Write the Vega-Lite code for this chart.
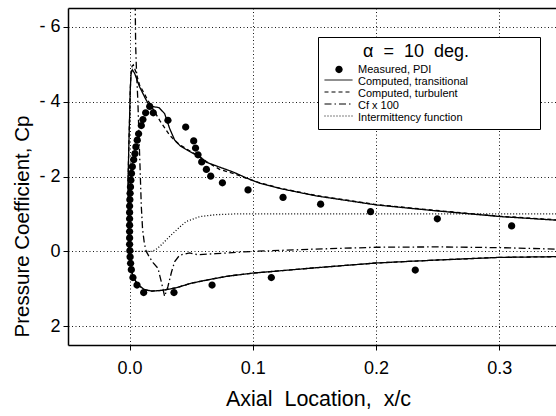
{
  "$schema": "https://vega.github.io/schema/vega-lite/v6.json",
  "width": 488,
  "height": 337,
  "autosize": {"type": "none"},
  "padding": {"left": 68, "top": 8, "right": 0, "bottom": 71},
  "background": "white",
  "datasets": {
    "lines": [
      {"s": "Computed, transitional", "k": 1, "x": 0.348, "cp": 0.14},
      {"s": "Computed, transitional", "k": 2, "x": 0.30, "cp": 0.16},
      {"s": "Computed, transitional", "k": 3, "x": 0.25, "cp": 0.23},
      {"s": "Computed, transitional", "k": 4, "x": 0.20, "cp": 0.31},
      {"s": "Computed, transitional", "k": 5, "x": 0.15, "cp": 0.44},
      {"s": "Computed, transitional", "k": 6, "x": 0.10, "cp": 0.58},
      {"s": "Computed, transitional", "k": 7, "x": 0.08, "cp": 0.66},
      {"s": "Computed, transitional", "k": 8, "x": 0.065, "cp": 0.75},
      {"s": "Computed, transitional", "k": 9, "x": 0.05, "cp": 0.85},
      {"s": "Computed, transitional", "k": 10, "x": 0.038, "cp": 0.97},
      {"s": "Computed, transitional", "k": 11, "x": 0.027, "cp": 1.04},
      {"s": "Computed, transitional", "k": 12, "x": 0.018, "cp": 1.06},
      {"s": "Computed, transitional", "k": 13, "x": 0.012, "cp": 1.02},
      {"s": "Computed, transitional", "k": 14, "x": 0.007, "cp": 0.90},
      {"s": "Computed, transitional", "k": 15, "x": 0.003, "cp": 0.70},
      {"s": "Computed, transitional", "k": 16, "x": 0.001, "cp": 0.45},
      {"s": "Computed, transitional", "k": 17, "x": 0.0, "cp": 0.2},
      {"s": "Computed, transitional", "k": 18, "x": -0.0008, "cp": -0.3},
      {"s": "Computed, transitional", "k": 19, "x": -0.001, "cp": -1.0},
      {"s": "Computed, transitional", "k": 20, "x": -0.0012, "cp": -2.0},
      {"s": "Computed, transitional", "k": 21, "x": -0.0005, "cp": -3.0},
      {"s": "Computed, transitional", "k": 22, "x": 0.0, "cp": -3.6},
      {"s": "Computed, transitional", "k": 23, "x": 0.0005, "cp": -4.3},
      {"s": "Computed, transitional", "k": 24, "x": 0.0012, "cp": -4.75},
      {"s": "Computed, transitional", "k": 25, "x": 0.0022, "cp": -4.85},
      {"s": "Computed, transitional", "k": 26, "x": 0.004, "cp": -4.76},
      {"s": "Computed, transitional", "k": 27, "x": 0.008, "cp": -4.40},
      {"s": "Computed, transitional", "k": 28, "x": 0.013, "cp": -4.07},
      {"s": "Computed, transitional", "k": 29, "x": 0.0163, "cp": -3.88},
      {"s": "Computed, transitional", "k": 30, "x": 0.020, "cp": -3.86},
      {"s": "Computed, transitional", "k": 31, "x": 0.0238, "cp": -3.84},
      {"s": "Computed, transitional", "k": 32, "x": 0.0284, "cp": -3.68},
      {"s": "Computed, transitional", "k": 33, "x": 0.0325, "cp": -3.28},
      {"s": "Computed, transitional", "k": 34, "x": 0.0366, "cp": -2.97},
      {"s": "Computed, transitional", "k": 35, "x": 0.041, "cp": -2.82},
      {"s": "Computed, transitional", "k": 36, "x": 0.048, "cp": -2.68},
      {"s": "Computed, transitional", "k": 37, "x": 0.0555, "cp": -2.55},
      {"s": "Computed, transitional", "k": 38, "x": 0.0623, "cp": -2.38},
      {"s": "Computed, transitional", "k": 39, "x": 0.0731, "cp": -2.25},
      {"s": "Computed, transitional", "k": 40, "x": 0.084, "cp": -2.12},
      {"s": "Computed, transitional", "k": 41, "x": 0.0948, "cp": -1.96},
      {"s": "Computed, transitional", "k": 42, "x": 0.1056, "cp": -1.82},
      {"s": "Computed, transitional", "k": 43, "x": 0.1218, "cp": -1.68},
      {"s": "Computed, transitional", "k": 44, "x": 0.1517, "cp": -1.48},
      {"s": "Computed, transitional", "k": 45, "x": 0.2004, "cp": -1.24},
      {"s": "Computed, transitional", "k": 46, "x": 0.2464, "cp": -1.09},
      {"s": "Computed, transitional", "k": 47, "x": 0.3006, "cp": -0.93},
      {"s": "Computed, transitional", "k": 48, "x": 0.348, "cp": -0.83},

      {"s": "Computed, turbulent", "k": 1, "x": 0.348, "cp": 0.14},
      {"s": "Computed, turbulent", "k": 2, "x": 0.30, "cp": 0.16},
      {"s": "Computed, turbulent", "k": 3, "x": 0.25, "cp": 0.23},
      {"s": "Computed, turbulent", "k": 4, "x": 0.20, "cp": 0.31},
      {"s": "Computed, turbulent", "k": 5, "x": 0.15, "cp": 0.44},
      {"s": "Computed, turbulent", "k": 6, "x": 0.10, "cp": 0.58},
      {"s": "Computed, turbulent", "k": 7, "x": 0.08, "cp": 0.66},
      {"s": "Computed, turbulent", "k": 8, "x": 0.065, "cp": 0.75},
      {"s": "Computed, turbulent", "k": 9, "x": 0.05, "cp": 0.85},
      {"s": "Computed, turbulent", "k": 10, "x": 0.038, "cp": 0.97},
      {"s": "Computed, turbulent", "k": 11, "x": 0.027, "cp": 1.04},
      {"s": "Computed, turbulent", "k": 12, "x": 0.018, "cp": 1.06},
      {"s": "Computed, turbulent", "k": 13, "x": 0.012, "cp": 1.02},
      {"s": "Computed, turbulent", "k": 14, "x": 0.007, "cp": 0.90},
      {"s": "Computed, turbulent", "k": 15, "x": 0.003, "cp": 0.70},
      {"s": "Computed, turbulent", "k": 16, "x": 0.001, "cp": 0.45},
      {"s": "Computed, turbulent", "k": 17, "x": 0.0, "cp": 0.2},
      {"s": "Computed, turbulent", "k": 18, "x": -0.0008, "cp": -0.3},
      {"s": "Computed, turbulent", "k": 19, "x": -0.001, "cp": -1.0},
      {"s": "Computed, turbulent", "k": 20, "x": -0.0012, "cp": -2.0},
      {"s": "Computed, turbulent", "k": 21, "x": -0.0005, "cp": -3.0},
      {"s": "Computed, turbulent", "k": 22, "x": 0.0, "cp": -3.6},
      {"s": "Computed, turbulent", "k": 23, "x": 0.0005, "cp": -4.3},
      {"s": "Computed, turbulent", "k": 24, "x": 0.001, "cp": -4.7},
      {"s": "Computed, turbulent", "k": 25, "x": 0.002, "cp": -4.95},
      {"s": "Computed, turbulent", "k": 26, "x": 0.003, "cp": -4.98},
      {"s": "Computed, turbulent", "k": 27, "x": 0.005, "cp": -4.80},
      {"s": "Computed, turbulent", "k": 28, "x": 0.008, "cp": -4.45},
      {"s": "Computed, turbulent", "k": 29, "x": 0.0149, "cp": -4.03},
      {"s": "Computed, turbulent", "k": 30, "x": 0.0244, "cp": -3.50},
      {"s": "Computed, turbulent", "k": 31, "x": 0.0325, "cp": -3.10},
      {"s": "Computed, turbulent", "k": 32, "x": 0.037, "cp": -2.95},
      {"s": "Computed, turbulent", "k": 33, "x": 0.041, "cp": -2.84},
      {"s": "Computed, turbulent", "k": 34, "x": 0.048, "cp": -2.70},
      {"s": "Computed, turbulent", "k": 35, "x": 0.0555, "cp": -2.56},
      {"s": "Computed, turbulent", "k": 36, "x": 0.0623, "cp": -2.40},
      {"s": "Computed, turbulent", "k": 37, "x": 0.073, "cp": -2.19},
      {"s": "Computed, turbulent", "k": 38, "x": 0.085, "cp": -2.07},
      {"s": "Computed, turbulent", "k": 39, "x": 0.095, "cp": -1.95},
      {"s": "Computed, turbulent", "k": 40, "x": 0.1056, "cp": -1.83},
      {"s": "Computed, turbulent", "k": 41, "x": 0.1218, "cp": -1.69},
      {"s": "Computed, turbulent", "k": 42, "x": 0.1517, "cp": -1.49},
      {"s": "Computed, turbulent", "k": 43, "x": 0.2004, "cp": -1.25},
      {"s": "Computed, turbulent", "k": 44, "x": 0.2464, "cp": -1.10},
      {"s": "Computed, turbulent", "k": 45, "x": 0.3006, "cp": -0.94},
      {"s": "Computed, turbulent", "k": 46, "x": 0.348, "cp": -0.84},

      {"s": "Cf x 100", "k": 1, "x": 0.0043, "cp": -7.0},
      {"s": "Cf x 100", "k": 2, "x": 0.0046, "cp": -6.4},
      {"s": "Cf x 100", "k": 3, "x": 0.0049, "cp": -5.5},
      {"s": "Cf x 100", "k": 4, "x": 0.0055, "cp": -4.9},
      {"s": "Cf x 100", "k": 5, "x": 0.0067, "cp": -4.0},
      {"s": "Cf x 100", "k": 6, "x": 0.0075, "cp": -3.2},
      {"s": "Cf x 100", "k": 7, "x": 0.0085, "cp": -2.2},
      {"s": "Cf x 100", "k": 8, "x": 0.0095, "cp": -1.2},
      {"s": "Cf x 100", "k": 9, "x": 0.0105, "cp": -0.6},
      {"s": "Cf x 100", "k": 10, "x": 0.012, "cp": -0.2},
      {"s": "Cf x 100", "k": 11, "x": 0.0135, "cp": 0.0},
      {"s": "Cf x 100", "k": 12, "x": 0.016, "cp": 0.15},
      {"s": "Cf x 100", "k": 13, "x": 0.019, "cp": 0.3},
      {"s": "Cf x 100", "k": 14, "x": 0.023, "cp": 0.45},
      {"s": "Cf x 100", "k": 15, "x": 0.026, "cp": 0.85},
      {"s": "Cf x 100", "k": 16, "x": 0.0284, "cp": 1.2},
      {"s": "Cf x 100", "k": 17, "x": 0.031, "cp": 0.95},
      {"s": "Cf x 100", "k": 18, "x": 0.034, "cp": 0.55},
      {"s": "Cf x 100", "k": 19, "x": 0.0366, "cp": 0.27},
      {"s": "Cf x 100", "k": 20, "x": 0.0406, "cp": 0.1},
      {"s": "Cf x 100", "k": 21, "x": 0.0487, "cp": 0.04},
      {"s": "Cf x 100", "k": 22, "x": 0.0555, "cp": 0.09},
      {"s": "Cf x 100", "k": 23, "x": 0.07, "cp": 0.06},
      {"s": "Cf x 100", "k": 24, "x": 0.1, "cp": 0.0},
      {"s": "Cf x 100", "k": 25, "x": 0.15, "cp": -0.06},
      {"s": "Cf x 100", "k": 26, "x": 0.2, "cp": -0.11},
      {"s": "Cf x 100", "k": 27, "x": 0.25, "cp": -0.12},
      {"s": "Cf x 100", "k": 28, "x": 0.3, "cp": -0.1},
      {"s": "Cf x 100", "k": 29, "x": 0.348, "cp": -0.06},

      {"s": "Intermittency function", "k": 1, "x": 0.0, "cp": 0.0},
      {"s": "Intermittency function", "k": 2, "x": 0.018, "cp": 0.0},
      {"s": "Intermittency function", "k": 3, "x": 0.021, "cp": -0.04},
      {"s": "Intermittency function", "k": 4, "x": 0.025, "cp": -0.15},
      {"s": "Intermittency function", "k": 5, "x": 0.0325, "cp": -0.4},
      {"s": "Intermittency function", "k": 6, "x": 0.04, "cp": -0.63},
      {"s": "Intermittency function", "k": 7, "x": 0.046, "cp": -0.8},
      {"s": "Intermittency function", "k": 8, "x": 0.057, "cp": -0.93},
      {"s": "Intermittency function", "k": 9, "x": 0.07, "cp": -0.98},
      {"s": "Intermittency function", "k": 10, "x": 0.085, "cp": -1.0},
      {"s": "Intermittency function", "k": 11, "x": 0.348, "cp": -1.0}
    ],
    "pts": [
      {"s": "Measured, PDI", "x": 0.0114, "cp": 1.10},
      {"s": "Measured, PDI", "x": 0.006, "cp": 0.90},
      {"s": "Measured, PDI", "x": 0.0027, "cp": 0.70},
      {"s": "Measured, PDI", "x": 0.0014, "cp": 0.49},
      {"s": "Measured, PDI", "x": 0.0008, "cp": 0.32},
      {"s": "Measured, PDI", "x": 0.0004, "cp": 0.15},
      {"s": "Measured, PDI", "x": 0.0002, "cp": -0.02},
      {"s": "Measured, PDI", "x": 0.0, "cp": -0.19},
      {"s": "Measured, PDI", "x": 0.0, "cp": -0.36},
      {"s": "Measured, PDI", "x": 0.0, "cp": -0.53},
      {"s": "Measured, PDI", "x": 0.0, "cp": -0.70},
      {"s": "Measured, PDI", "x": 0.0, "cp": -0.87},
      {"s": "Measured, PDI", "x": 0.0, "cp": -1.04},
      {"s": "Measured, PDI", "x": 0.0, "cp": -1.21},
      {"s": "Measured, PDI", "x": 0.0002, "cp": -1.38},
      {"s": "Measured, PDI", "x": 0.0004, "cp": -1.55},
      {"s": "Measured, PDI", "x": 0.0007, "cp": -1.72},
      {"s": "Measured, PDI", "x": 0.0010, "cp": -1.90},
      {"s": "Measured, PDI", "x": 0.0015, "cp": -2.08},
      {"s": "Measured, PDI", "x": 0.0022, "cp": -2.26},
      {"s": "Measured, PDI", "x": 0.0033, "cp": -2.45},
      {"s": "Measured, PDI", "x": 0.0043, "cp": -2.61},
      {"s": "Measured, PDI", "x": 0.0051, "cp": -2.79},
      {"s": "Measured, PDI", "x": 0.0062, "cp": -2.97},
      {"s": "Measured, PDI", "x": 0.0073, "cp": -3.14},
      {"s": "Measured, PDI", "x": 0.0095, "cp": -3.36},
      {"s": "Measured, PDI", "x": 0.0108, "cp": -3.52},
      {"s": "Measured, PDI", "x": 0.013, "cp": -3.70},
      {"s": "Measured, PDI", "x": 0.0163, "cp": -3.87},
      {"s": "Measured, PDI", "x": 0.0192, "cp": -3.70},
      {"s": "Measured, PDI", "x": 0.0311, "cp": -3.50},
      {"s": "Measured, PDI", "x": 0.0455, "cp": -3.32},
      {"s": "Measured, PDI", "x": 0.052, "cp": -2.95},
      {"s": "Measured, PDI", "x": 0.0535, "cp": -2.76},
      {"s": "Measured, PDI", "x": 0.0555, "cp": -2.58},
      {"s": "Measured, PDI", "x": 0.0585, "cp": -2.39},
      {"s": "Measured, PDI", "x": 0.0623, "cp": -2.19},
      {"s": "Measured, PDI", "x": 0.0658, "cp": -2.01},
      {"s": "Measured, PDI", "x": 0.0753, "cp": -1.83},
      {"s": "Measured, PDI", "x": 0.0961, "cp": -1.64},
      {"s": "Measured, PDI", "x": 0.1245, "cp": -1.44},
      {"s": "Measured, PDI", "x": 0.155, "cp": -1.26},
      {"s": "Measured, PDI", "x": 0.1955, "cp": -1.06},
      {"s": "Measured, PDI", "x": 0.2497, "cp": -0.87},
      {"s": "Measured, PDI", "x": 0.310, "cp": -0.68},
      {"s": "Measured, PDI", "x": 0.036, "cp": 1.10},
      {"s": "Measured, PDI", "x": 0.0669, "cp": 0.90},
      {"s": "Measured, PDI", "x": 0.115, "cp": 0.70},
      {"s": "Measured, PDI", "x": 0.2318, "cp": 0.50}
    ]
  },
  "layer": [
    {
      "data": {"name": "lines"},
      "mark": {"type": "line", "color": "black", "strokeWidth": 1.3, "clip": true},
      "encoding": {
        "x": {
          "field": "x", "type": "quantitative",
          "scale": {"domain": [-0.05, 0.346], "nice": false, "zero": false},
          "axis": {"title": "Axial\u00a0 Location,\u00a0 x/c", "values": [0, 0.1, 0.2, 0.3], "format": ".1f", "labelPadding": 9, "titlePadding": 11, "titleX": 250}
        },
        "y": {
          "field": "cp", "type": "quantitative",
          "scale": {"domain": [-6.5, 2.5], "reverse": true, "nice": false, "zero": false},
          "axis": {"title": "Pressure Coefficient, Cp", "titleFontSize": 20.5, "values": [-6, -4, -2, 0, 2], "labelExpr": "datum.value < 0 ? '- ' + abs(datum.value) : datum.label", "labelPadding": 3, "titleX": -46, "titleY": 218, "titleAngle": -90, "titleAlign": "center", "titleBaseline": "middle"}
        },
        "order": {"field": "k", "type": "quantitative"},
        "strokeDash": {
          "field": "s", "type": "nominal",
          "scale": {
            "domain": ["Computed, transitional", "Computed, turbulent", "Cf x 100", "Intermittency function"],
            "range": [[1, 0], [4, 3], [7, 3, 1.5, 3], [1, 2]]
          },
          "legend": {"title": null, "labelExpr": "''", "legendY": 60.5, "zindex": 2, "symbolStrokeWidth": 1, "symbolStrokeColor": "black"}
        }
      }
    },
    {
      "data": {"name": "pts"},
      "mark": {"type": "point", "filled": true, "color": "black", "size": 784, "opacity": 1, "strokeWidth": 0},
      "encoding": {
        "x": {"field": "x", "type": "quantitative", "axis": {"orient": "top", "labels": false, "ticks": false, "grid": false, "title": null, "domain": true}},
        "y": {"field": "cp", "type": "quantitative"},
        "shape": {
          "field": "s", "type": "nominal",
          "scale": {
            "domain": ["Measured, PDI", "Computed, transitional", "Computed, turbulent", "Cf x 100", "Intermittency function"],
            "range": ["M-0.26,0A0.26,0.26,0,1,0,0.26,0A0.26,0.26,0,1,0,-0.26,0Z", "M0,0", "M0,0", "M0,0", "M0,0"]
          },
          "legend": {"title": "\u2800\u2800\u2800α\u00a0\u00a0=\u00a0\u00a010\u00a0\u00a0deg.\u2800\u2800\u2800\u2800\u2800", "legendY": 29, "zindex": 1, "fillColor": "white", "strokeColor": "black"}
        }
      }
    }
  ],
  "resolve": {"axis": {"x": "independent"}},
  "config": {
    "font": "Liberation Sans",
    "view": {"stroke": null},
    "axis": {
      "labelFont": "Liberation Sans", "titleFont": "Liberation Sans",
      "labelColor": "black", "titleColor": "black", "titleFontWeight": "normal",
      "labelFontSize": 18, "titleFontSize": 21.5,
      "domainColor": "black", "domainWidth": 1.5,
      "tickColor": "black", "tickSize": 5, "tickWidth": 1,
      "grid": true, "gridColor": "black", "gridDash": [1, 2.5], "gridWidth": 1, "gridOpacity": 0.9
    },
    "legend": {
      "orient": "none", "legendX": 250,
      "padding": 6,
      "titleFont": "Liberation Sans", "titleFontSize": 18, "titleFontWeight": "normal", "titleColor": "black",
      "titleAnchor": "start", "titleAlign": "left", "titlePadding": 3, "titleLimit": 400,
      "labelFont": "Liberation Sans", "labelFontSize": 11, "labelColor": "black", "labelOffset": 4, "labelLimit": 300,
      "symbolType": "stroke", "symbolSize": 784, "clipHeight": 11, "rowPadding": 0
    }
  }
}
